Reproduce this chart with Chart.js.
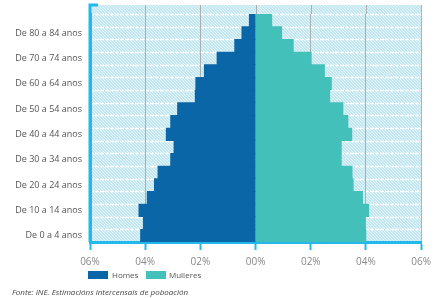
<!DOCTYPE html>
<html>
<head>
<meta charset="utf-8">
<script src="https://cdn.jsdelivr.net/npm/chart.js@4.4.1/dist/chart.umd.min.js"></script>
<style>
  html, body { margin: 0; padding: 0; background: #fff; }
  #wrap { position: relative; width: 437px; height: 298px; }
  .box { position: absolute; height: 8px; }
  .lg { position: absolute; font-family: 'Open Sans', sans-serif; font-size: 8px; color: #555; line-height: 10px; }
  #src { position: absolute; left: 12px; top: 287px; font-family: 'Open Sans', sans-serif; font-style: italic; font-size: 8px; color: #444; line-height: 10px; white-space: nowrap; }
</style>
</head>
<body>
<div id="wrap">
  <canvas id="c"></canvas>
  <div class="box" style="left:88px;top:271px;width:20px;background:#0a66a6;"></div>
  <div class="lg" style="left:112px;top:270px;">Homes</div>
  <div class="box" style="left:146px;top:271px;width:20px;background:#44c0bb;"></div>
  <div class="lg" style="left:169px;top:270px;">Mulleres</div>
  <div id="src">Fonte: INE. Estimacións intercensais de poboación</div>
</div>
<script>
// Age groups, bottom (youngest) to top (oldest)
const ageGroups = [
  'De 0 a 4 anos','De 5 a 9 anos','De 10 a 14 anos','De 15 a 19 anos',
  'De 20 a 24 anos','De 25 a 29 anos','De 30 a 34 anos','De 35 a 39 anos',
  'De 40 a 44 anos','De 45 a 49 anos','De 50 a 54 anos','De 55 a 59 anos',
  'De 60 a 64 anos','De 65 a 69 anos','De 70 a 74 anos','De 75 a 79 anos',
  'De 80 a 84 anos','De 85 e máis anos'
];
// Percent of population
const homes = [4.17,4.07,4.23,3.93,3.67,3.54,3.08,2.96,3.24,3.08,2.83,2.19,2.17,1.86,1.40,0.76,0.50,0.23];
const mulleres = [4.00,3.98,4.10,3.88,3.54,3.50,3.11,3.11,3.49,3.35,3.17,2.69,2.75,2.50,2.02,1.37,0.95,0.59];
const xTickValues = [-6,-4,-2,0,2,4,6];
const xTickLabels = ['06%','04%','02%','00%','02%','04%','06%'];
const seriesNames = ['Homes','Mulleres'];

const AXIS_BLUE = '#22b8ec';
const GRID_GRAY = 'rgba(160,160,160,0.8)';
const TOP_GAP = 9;

function makeHatch(ctx) {
  const t = document.createElement('canvas');
  t.width = 3; t.height = 3;
  const g = t.getContext('2d');
  g.fillStyle = '#c3e7f0';
  g.fillRect(0, 0, 3, 3);
  g.fillStyle = '#e4f5f9';
  g.fillRect(0, 0, 1, 1);
  g.fillRect(1, 1, 1, 1);
  g.fillRect(2, 2, 1, 1);
  return ctx.createPattern(t, 'repeat');
}

const decor = {
  id: 'decor',
  beforeDraw(chart) {
    const { ctx, chartArea: a, scales } = chart;
    ctx.save();
    ctx.fillStyle = makeHatch(ctx);
    ctx.fillRect(a.left, a.top - TOP_GAP, a.right - a.left, a.bottom - a.top + TOP_GAP);
    // white dashed row separators
    const y = scales.y;
    ctx.strokeStyle = 'rgba(255,255,255,0.95)';
    ctx.lineWidth = 1.5;
    ctx.setLineDash([4, 1]);
    for (let i = 0; i < ageGroups.length; i++) {
      const yc = y.getPixelForValue(i);
      const half = (y.getPixelForValue(0) - y.getPixelForValue(1)) / 2;
      const yy = Math.round(yc - half) + 0.5;
      ctx.beginPath();
      ctx.moveTo(a.left, yy);
      ctx.lineTo(a.right, yy);
      ctx.stroke();
    }
    ctx.restore();
  },
  afterDraw(chart) {
    const { ctx, chartArea: a, scales } = chart;
    ctx.save();
    // extend grid lines into the top gap
    ctx.strokeStyle = GRID_GRAY;
    ctx.lineWidth = 1;
    xTickValues.forEach(v => {
      if (v === -6) return;
      const x = Math.round(scales.x.getPixelForValue(v)) + 0.5;
      ctx.beginPath();
      ctx.moveTo(x, a.top - TOP_GAP);
      ctx.lineTo(x, a.top);
      ctx.stroke();
    });
    // extend left axis and draw the cap
    ctx.strokeStyle = AXIS_BLUE;
    ctx.lineWidth = 3;
    ctx.beginPath();
    ctx.moveTo(a.left, a.bottom);
    ctx.lineTo(a.left, a.top - TOP_GAP);
    ctx.lineTo(a.left + 8, a.top - TOP_GAP);
    ctx.stroke();
    ctx.restore();
  }
};

new Chart(document.getElementById('c'), {
  type: 'bar',
  data: {
    labels: ageGroups,
    datasets: [
      { label: seriesNames[0], data: homes.map(v => -v), backgroundColor: '#0a66a6', borderWidth: 0, barPercentage: 1, categoryPercentage: 1 },
      { label: seriesNames[1], data: mulleres, backgroundColor: '#44c0bb', borderWidth: 0, barPercentage: 1, categoryPercentage: 1 }
    ]
  },
  options: {
    indexAxis: 'y',
    responsive: true,
    maintainAspectRatio: false,
    animation: false,
    layout: { padding: { top: 14, right: 10, left: 0, bottom: 0 } },
    plugins: { legend: { display: false }, tooltip: { enabled: false } },
    scales: {
      x: {
        stacked: true,
        min: -6, max: 6,
        z: 1,
        afterBuildTicks(scale) { scale.ticks = xTickValues.map(v => ({ value: v })); },
        afterFit(scale) { scale.height = 56; },
        ticks: {
          callback: (v, i) => xTickLabels[i],
          color: '#888',
          font: { family: 'Open Sans', size: 10 },
          padding: 6,
          maxRotation: 0
        },
        grid: {
          color: ctx => (ctx.tick && ctx.tick.value === -6) ? 'rgba(0,0,0,0)' : GRID_GRAY,
          lineWidth: 1,
          drawTicks: true,
          tickLength: 8,
          tickWidth: 2,
          tickColor: AXIS_BLUE
        },
        border: { display: true, color: AXIS_BLUE, width: 3 }
      },
      y: {
        stacked: true,
        reverse: true,
        afterFit(scale) { scale.width = 90; },
        ticks: {
          autoSkip: false,
          callback: (v, i) => (i % 2 === 0 ? ageGroups[i] : ''),
          color: '#555',
          font: { family: 'Open Sans', size: 9 },
          padding: 8
        },
        grid: { display: true, color: 'rgba(0,0,0,0)', drawTicks: false },
        border: { display: true, color: AXIS_BLUE, width: 3 }
      }
    }
  },
  plugins: [decor]
});
</script>
</body>
</html>
